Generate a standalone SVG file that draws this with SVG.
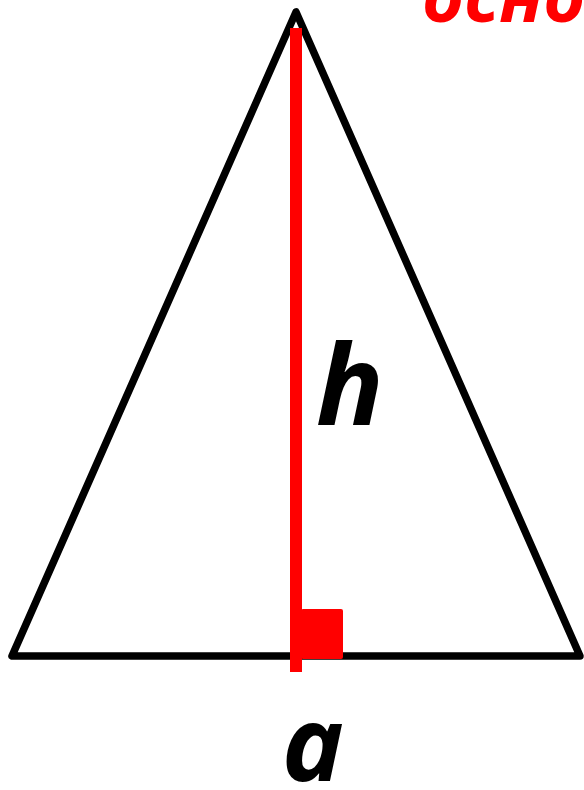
<svg xmlns="http://www.w3.org/2000/svg" width="584" height="790" viewBox="0 0 584 790">
<style>
.lbl{font-family:"Open Sans","Noto Sans","Liberation Sans",sans-serif;font-weight:bold;font-style:italic;}
</style>
<rect width="584" height="790" fill="#fff"/>
<g id="triangle">
<polygon points="296,12 12,656 580,656" fill="none" stroke="#000" stroke-width="7.5" stroke-linejoin="round"/>
</g>
<g id="connectors">
<rect x="290" y="28" width="12" height="644" fill="#f00"/>
<rect x="301" y="609" width="42" height="50" rx="2" fill="#f00"/>
</g>
<g id="labels">
<text class="lbl" x="316" y="425" font-size="112" fill="#000">h</text>
<text class="lbl" x="282" y="781" font-size="104" fill="#000">a</text>
<text class="lbl" x="422" y="22" font-size="72" fill="#f00">осно</text>
</g>
</svg>
